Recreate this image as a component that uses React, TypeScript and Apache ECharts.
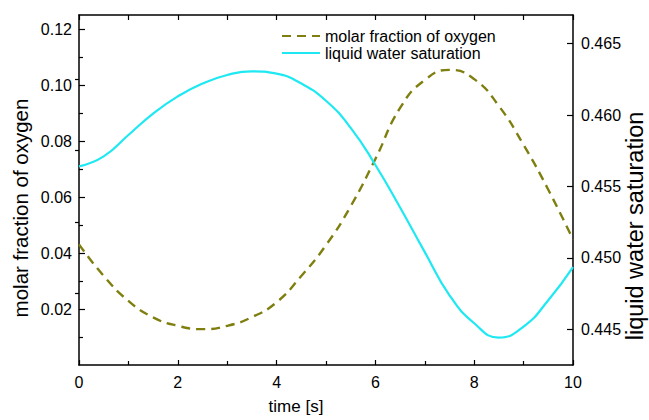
import React, { useEffect, useRef } from "react";
import * as echarts from "echarts";

const time = [0, 0.5, 1, 1.5, 2, 2.5, 3, 3.5, 4, 4.5, 5, 5.5, 6, 6.5, 7, 7.5, 8, 8.5, 9, 9.5, 10];
const oxygen = [0.0431, 0.0318, 0.0229, 0.017, 0.014, 0.0128, 0.014, 0.0171, 0.0224, 0.0318, 0.0428, 0.0567, 0.0736, 0.0918, 0.1018, 0.1054, 0.1021, 0.0925, 0.0786, 0.0626, 0.0448];
const saturation = [0.4564, 0.4571, 0.4586, 0.4601, 0.4613, 0.4622, 0.4628, 0.46306, 0.4629, 0.4622, 0.461, 0.4591, 0.4565, 0.45352, 0.4504, 0.44738, 0.44542, 0.44442, 0.44519, 0.44703, 0.44935];

const leftMajor = [0.02, 0.04, 0.06, 0.08, 0.1, 0.12];
const leftMinor = [0.01, 0.03, 0.05, 0.07, 0.09, 0.11];
const rightMajor = [0.445, 0.45, 0.455, 0.46, 0.465];
const rightMinor = [0.4475, 0.4525, 0.4575, 0.4625];

const seriesNames = ["molar fraction of oxygen", "liquid water saturation"];
const xName = "time [s]";
const leftName = "molar fraction of oxygen";
const rightName = "liquid water saturation";

const FONT = "'Liberation Sans', Arial, Helvetica, sans-serif";
const AX = "#000";

export default function App() {
  const ref = useRef<HTMLDivElement>(null);
  useEffect(() => {
    document.body.style.margin = "0";
    if (!ref.current) return;
    const chart = echarts.init(ref.current, undefined, { renderer: "svg" });
    const lineAxis = { show: true, onZero: false, lineStyle: { color: AX, width: 1.5 } };
    const tickStyle = { color: AX, width: 1.2 };
    chart.setOption({
      animation: false,
      backgroundColor: "#fff",
      grid: { left: 79, right: 76, top: 15, bottom: 55, containLabel: false, outerBoundsMode: "none" },
      legend: {
        orient: "vertical",
        left: 276,
        top: 23,
        itemWidth: 38,
        itemHeight: 14,
        itemGap: 1,
        itemStyle: { opacity: 0 },
        textStyle: { fontFamily: FONT, fontSize: 16, color: "#000" },
        data: seriesNames,
      },
      graphic: [
        {
          type: "text",
          x: 20,
          y: 208,
          rotation: Math.PI / 2,
          style: { text: leftName, fontFamily: FONT, fontSize: 20.5, fill: "#000", align: "center", verticalAlign: "middle" },
        },
        {
          type: "text",
          x: 635,
          y: 226,
          rotation: Math.PI / 2,
          style: { text: rightName, fontFamily: FONT, fontSize: 23.5, fill: "#000", align: "center", verticalAlign: "middle" },
        },
      ],
      xAxis: [
        {
          type: "value",
          position: "bottom",
          min: 0,
          max: 10,
          interval: 2,
          name: xName,
          nameLocation: "middle",
          nameGap: 33,
          nameTextStyle: { fontFamily: FONT, fontSize: 17, color: "#000", padding: [0, 60, 0, 0] },
          axisLine: lineAxis,
          axisTick: { show: true, inside: true, length: 5, lineStyle: tickStyle },
          minorTick: { show: true, splitNumber: 2, length: 4, lineStyle: tickStyle },
          axisLabel: { fontFamily: FONT, fontSize: 16, color: "#000", margin: 9 },
          splitLine: { show: false },
        },
        {
          type: "value",
          position: "top",
          min: 0,
          max: 10,
          interval: 1,
          axisLine: lineAxis,
          axisTick: { show: true, inside: true, length: 5, lineStyle: tickStyle },
          axisLabel: { show: false },
          splitLine: { show: false },
        },
      ],
      yAxis: [
        {
          type: "value",
          position: "left",
          min: 0,
          max: 0.125,
          axisLine: lineAxis,
          axisTick: { show: true, inside: true, length: 6, customValues: leftMajor, lineStyle: tickStyle },
          axisLabel: {
            fontFamily: FONT,
            fontSize: 16,
            color: "#000",
            margin: 7,
            customValues: leftMajor,
            formatter: (v: number) => v.toFixed(2),
          },
          splitLine: { show: false },
        },
        {
          type: "value",
          position: "right",
          min: 0.4425,
          max: 0.467,
          axisLine: lineAxis,
          axisTick: { show: true, inside: true, length: 6, customValues: rightMajor, lineStyle: tickStyle },
          axisLabel: {
            fontFamily: FONT,
            fontSize: 16,
            color: "#000",
            margin: 8,
            customValues: rightMajor,
            formatter: (v: number) => v.toFixed(3),
          },
          splitLine: { show: false },
        },
        {
          type: "value",
          position: "right",
          min: 0.4425,
          max: 0.467,
          axisLine: { show: false },
          axisTick: { show: true, inside: true, length: 4, customValues: rightMinor, lineStyle: tickStyle },
          axisLabel: { show: false },
          splitLine: { show: false },
        },
        {
          type: "value",
          position: "left",
          min: 0,
          max: 0.125,
          axisLine: { show: false },
          axisTick: { show: true, inside: true, length: 4, customValues: leftMinor, lineStyle: tickStyle },
          axisLabel: { show: false },
          splitLine: { show: false },
        },
      ],
      series: [
        {
          name: seriesNames[0],
          type: "line",
          xAxisIndex: 0,
          yAxisIndex: 0,
          data: time.map((t, i) => [t, oxygen[i]]),
          smooth: 0.5,
          symbol: "none",
          lineStyle: { color: "#7f7f10", width: 2.4, type: [9, 6] },
          itemStyle: { color: "#7f7f10" },
        },
        {
          name: seriesNames[1],
          type: "line",
          xAxisIndex: 0,
          yAxisIndex: 1,
          data: time.map((t, i) => [t, saturation[i]]),
          smooth: 0.5,
          symbol: "none",
          lineStyle: { color: "#1ee8f2", width: 2.2 },
          itemStyle: { color: "#1ee8f2" },
        },
      ],
    });
    return () => chart.dispose();
  }, []);
  return <div ref={ref} style={{ width: 649, height: 420 }} />;
}
